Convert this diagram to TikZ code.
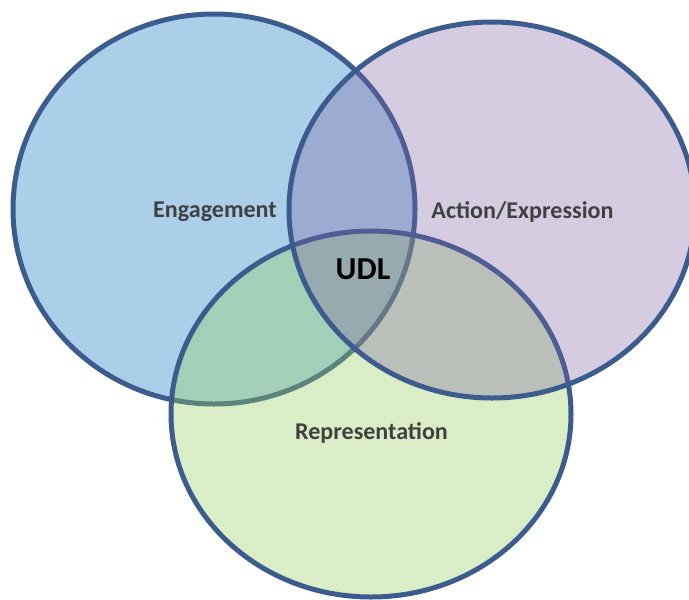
\documentclass[tikz,border=0pt]{standalone}
\usepackage{fontspec}
\setmainfont{Carlito}
\definecolor{ringline}{RGB}{59,92,140}
\definecolor{engfill}{RGB}{171,207,233}
\definecolor{repfill}{RGB}{149,205,97}
\definecolor{actfill}{RGB}{124,96,161}
\definecolor{labeltext}{RGB}{64,64,64}
\begin{document}
\begin{tikzpicture}[x=0.02cm, y=-0.02cm,
		ring/.style={draw=ringline, line width=0.1cm},
		area/.style={anchor=base, text=labeltext, font=\bfseries\fontsize{13.7}{16}\selectfont},
		core/.style={anchor=base, text=black, font=\bfseries\fontsize{18.2}{21}\selectfont}
		]
	\useasboundingbox (0,0) rectangle (689,599);
	\clip (0,0) rectangle (689,599);
	% the three circles, later ones see-through
	\path [ring, fill=engfill] (214,209) ellipse [x radius=201, y radius=195];
	\path [ring, fill=repfill, fill opacity=0.36] (371,414) ellipse [x radius=200, y radius=183];
	\path [ring, fill=actfill, fill opacity=0.32] (492,210) ellipse [x radius=203, y radius=188];
	% labels
	\node [area] (eng) at (215,217) {Engagement};
	\node [area] (act) at (522.5,218) {Action/Expression};
	\node [area] (rep) at (371.5,439) {Representation};
	\node [core] (udl) at (363,279) {UDL};
\end{tikzpicture}
\end{document}
